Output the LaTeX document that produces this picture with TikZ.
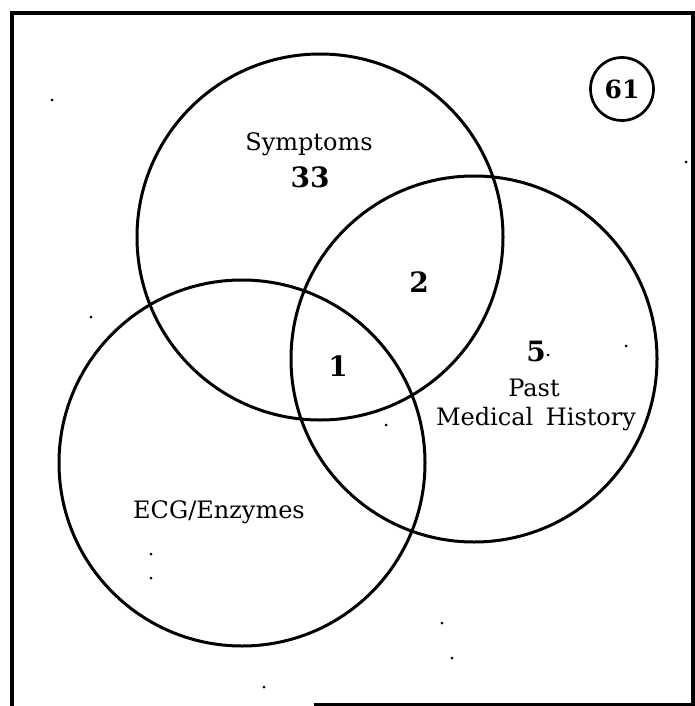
\documentclass[tikz,border=0pt]{standalone}
\usepackage{fontspec}
\setmainfont{DejaVu Serif}
\usepackage{tikz}
\tikzset{
  conjunto/.style = {draw, circle, line width=3pt, minimum size=366pt, inner sep=0pt},
  rotulo/.style   = {font=\fontsize{24}{28}\selectfont},
  cifra/.style    = {font=\fontsize{28}{32}\selectfont\bfseries},
  mancha/.style   = {fill=black, circle, inner sep=0pt, minimum size=3pt}
}

\begin{document}
\begin{tikzpicture}[x=1pt, y=-1pt]
  \useasboundingbox (0,0) rectangle (695,706);

  % marco
  \draw[line width=3.2pt] (314,705) -- (693,705) -- (693,13) -- (12,13) -- (12,706);

  % los tres conjuntos
  \node[conjunto] (sintomas) at (320,237) {};
  \node[conjunto] (historia) at (474,359) {};
  \node[conjunto] (ecg)      at (242,463) {};

  \node[draw, circle, line width=2.7pt, minimum size=63pt, inner sep=0pt,
        font=\fontsize{25}{28}\selectfont\bfseries] (total) at (622,89) {61};

  \node[rotulo] (lsint) at (309,144) {Symptoms};
  \node[cifra]  (nsint) at (310,177) {33};
  \node[cifra]  (nsh)   at (419,282) {2};
  \node[cifra]  (ntres) at (338,366) {1};
  \node[cifra]  (nhist) at (536,351) {5};
  \node[rotulo] (lpast) at (534,388) {Past};
  \node[rotulo] (lmed)  at (536,419) {Medical\hspace{5pt} History};
  \node[rotulo] (lecg)  at (219,512) {ECG/Enzymes};

  \foreach \px/\py in {52/100, 91/317, 151/554, 151/578, 386/425, 626/346,
                       442/623, 452/658, 264/687, 686/162, 548/355}{
    \node[mancha] at (\px,\py) {};
  }
\end{tikzpicture}
\end{document}
